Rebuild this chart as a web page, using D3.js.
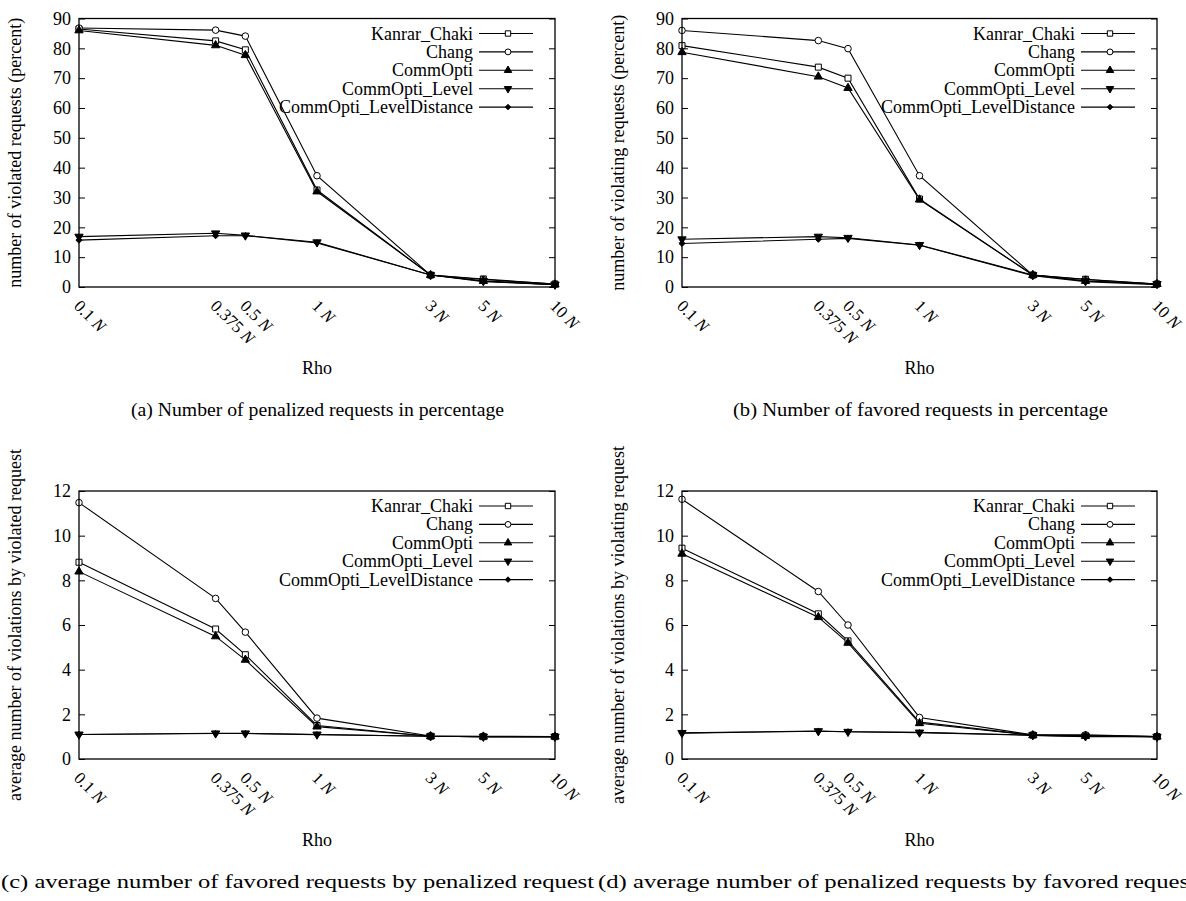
<!DOCTYPE html>
<html>
<head>
<meta charset="utf-8">
<script src="https://cdn.jsdelivr.net/npm/d3@7"></script>
<style>
  body { margin: 0; background: #fff; }
  svg { display: block; overflow: hidden; }
  text { font-family: "Liberation Serif", "Times New Roman", serif; fill: #000; }
</style>
</head>
<body>
<div id="chart"></div>
<script>

// x values (Rho) and their tick labels
const rhoValues = [0.1, 0.375, 0.5, 1, 3, 5, 10];
const rhoLabels = ["0.1", "0.375", "0.5", "1", "3", "5", "10"];

const seriesNames = ["Kanrar_Chaki", "Chang", "CommOpti", "CommOpti_Level", "CommOpti_LevelDistance"];

// (a) number of violated requests (percent)
const violatedKanrar   = [86.5, 82.5, 79.5, 32.5, 4.0, 2.7, 1.0];
const violatedChang    = [86.8, 86.1, 84.1, 37.3, 4.0, 2.5, 1.0];
const violatedComm     = [86.0, 81.0, 77.7, 32.0, 4.0, 2.0, 0.8];
const violatedLevel    = [16.9, 18.0, 17.3, 15.0, 4.0, 2.0, 0.8];
const violatedLevelDst = [15.7, 17.2, 17.2, 14.8, 4.0, 1.8, 0.8];

// (b) number of violating requests (percent)
const violatingKanrar   = [80.9, 73.7, 70.0, 29.5, 4.0, 2.6, 1.0];
const violatingChang    = [86.0, 82.6, 79.9, 37.3, 4.0, 2.5, 1.0];
const violatingComm     = [78.7, 70.5, 66.7, 29.3, 4.0, 2.0, 1.0];
const violatingLevel    = [16.0, 16.9, 16.5, 14.1, 4.0, 2.0, 1.0];
const violatingLevelDst = [14.6, 16.0, 16.3, 14.0, 3.8, 1.8, 0.8];

// (c) average number of violations by violated request
const avgViolatedKanrar   = [8.81, 5.82, 4.67, 1.50, 1.02, 1.00, 1.00];
const avgViolatedChang    = [11.48, 7.19, 5.68, 1.83, 1.03, 1.02, 1.00];
const avgViolatedComm     = [8.39, 5.49, 4.44, 1.45, 1.02, 1.00, 1.00];
const avgViolatedLevel    = [1.10, 1.15, 1.15, 1.10, 1.02, 1.00, 1.00];
const avgViolatedLevelDst = [1.10, 1.14, 1.14, 1.09, 1.02, 1.00, 1.00];

// (d) average number of violations by violating request
const avgViolatingKanrar   = [9.44, 6.50, 5.29, 1.65, 1.07, 1.05, 1.00];
const avgViolatingChang    = [11.63, 7.50, 6.00, 1.86, 1.08, 1.08, 1.00];
const avgViolatingComm     = [9.19, 6.35, 5.20, 1.60, 1.06, 1.03, 1.00];
const avgViolatingLevel    = [1.17, 1.25, 1.22, 1.19, 1.07, 1.02, 1.00];
const avgViolatingLevelDst = [1.16, 1.24, 1.22, 1.18, 1.06, 1.00, 1.00];

const width = 1186, height = 901;

// panel layout (plot box in pixels)
const panels = [
  { left: 79, right: 555, top: 18.5, bottom: 287, yMax: 90, yStep: 10,
    yLabel: "number of violated requests (percent)",
    caption: "(a) Number of penalized requests in percentage", capX: 131, capW: 373,
    series: [violatedKanrar, violatedChang, violatedComm, violatedLevel, violatedLevelDst] },
  { left: 682, right: 1157, top: 18.5, bottom: 287, yMax: 90, yStep: 10,
    yLabel: "number of violating requests (percent)",
    caption: "(b) Number of favored requests in percentage", capX: 733, capW: 375,
    series: [violatingKanrar, violatingChang, violatingComm, violatingLevel, violatingLevelDst] },
  { left: 79, right: 555, top: 491, bottom: 759, yMax: 12, yStep: 2,
    yLabel: "average number of violations by violated request",
    caption: "(c) average number of favored requests by penalized request", capX: 1, capW: 593,
    series: [avgViolatedKanrar, avgViolatedChang, avgViolatedComm, avgViolatedLevel, avgViolatedLevelDst] },
  { left: 682, right: 1157, top: 491, bottom: 759, yMax: 12, yStep: 2,
    yLabel: "average number of violations by violating request",
    caption: "(d) average number of penalized requests by favored request", capX: 598, capW: 598,
    series: [avgViolatingKanrar, avgViolatingChang, avgViolatingComm, avgViolatingLevel, avgViolatingLevelDst] }
];

// marker styles per series
const markerTypes = [d3.symbolSquare, d3.symbolCircle, d3.symbolTriangle, d3.symbolTriangle, d3.symbolDiamond2 || d3.symbolDiamond];
const markerSizes = [36, 34, 30, 30, 24];
const markerFills = ["#fff", "#fff", "#000", "#000", "#000"];
const markerRot   = [0, 0, 0, 180, 0];

const svg = d3.select("#chart")
  .append("svg")
  .attr("width", width)
  .attr("height", height);

function drawPanel(p) {
  const x = d3.scaleLog().domain([0.1, 10]).range([p.left, p.right]);
  const y = d3.scaleLinear().domain([0, p.yMax]).range([p.bottom, p.top]);
  const yTicks = d3.range(0, p.yMax + 0.001, p.yStep);

  const g = svg.append("g");

  // left axis with inward ticks
  g.append("g")
    .attr("transform", `translate(${p.left},0)`)
    .call(d3.axisLeft(y).tickValues(yTicks).tickSize(-6).tickPadding(8))
    .call(a => a.select(".domain").remove())
    .call(a => a.selectAll("text").attr("font-size", "18px"))
    .call(a => a.selectAll("line").attr("stroke", "#000"));

  // right mirror ticks
  g.append("g")
    .attr("transform", `translate(${p.right},0)`)
    .call(d3.axisRight(y).tickValues(yTicks).tickSize(-6).tickFormat(""))
    .call(a => a.select(".domain").remove());

  // x tick labels, rotated
  const xl = g.append("g").attr("transform", `translate(0,${p.bottom})`);
  rhoValues.forEach((v, i) => {
    const t = xl.append("text")
      .attr("transform", `translate(${x(v) - 6},20) rotate(45)`)
      .attr("font-size", "17px");
    t.append("tspan").text(rhoLabels[i] + " ");
    t.append("tspan").attr("font-style", "italic").text("N");
  });

  // lines
  const line = d3.line().x((d, i) => x(rhoValues[i])).y(d => y(d));
  p.series.forEach(s => {
    g.append("path")
      .datum(s)
      .attr("d", line)
      .attr("fill", "none")
      .attr("stroke", "#000")
      .attr("stroke-width", 1.1);
  });

  // markers
  p.series.forEach((s, k) => {
    g.selectAll(null)
      .data(s)
      .enter()
      .append("path")
        .attr("d", d3.symbol().type(markerTypes[k]).size(markerSizes[k]))
        .attr("transform", (d, i) => `translate(${x(rhoValues[i])},${y(d)}) rotate(${markerRot[k]})`)
        .attr("fill", markerFills[k])
        .attr("stroke", "#000")
        .attr("stroke-width", 1);
  });

  // frame
  g.append("rect")
    .attr("x", p.left).attr("y", p.top)
    .attr("width", p.right - p.left).attr("height", p.bottom - p.top)
    .attr("fill", "none").attr("stroke", "#000").attr("stroke-width", 1.3);

  // legend
  seriesNames.forEach((name, k) => {
    const ly = p.top + 15 + k * 18.4;
    g.append("text")
      .attr("x", p.right - 82).attr("y", ly + 6)
      .attr("text-anchor", "end")
      .attr("font-size", "18px")
      .text(name);
    g.append("line")
      .attr("x1", p.right - 76).attr("x2", p.right - 22)
      .attr("y1", ly).attr("y2", ly)
      .attr("stroke", "#000").attr("stroke-width", 1.1);
    g.append("path")
      .attr("d", d3.symbol().type(markerTypes[k]).size(markerSizes[k] * 0.8))
      .attr("transform", `translate(${p.right - 47},${ly}) rotate(${markerRot[k]})`)
      .attr("fill", markerFills[k])
      .attr("stroke", "#000");
  });

  // axis titles
  g.append("text")
    .attr("transform", `translate(${p.left - 58},${(p.top + p.bottom) / 2}) rotate(-90)`)
    .attr("text-anchor", "middle")
    .attr("font-size", "18px")
    .text(p.yLabel);

  g.append("text")
    .attr("x", (p.left + p.right) / 2).attr("y", p.bottom + 87)
    .attr("text-anchor", "middle")
    .attr("font-size", "18px")
    .text("Rho");

  // caption
  g.append("text")
    .attr("x", p.capX).attr("y", p.bottom + 129)
    .attr("font-size", "19px")
    .attr("textLength", p.capW)
    .attr("lengthAdjust", "spacingAndGlyphs")
    .text(p.caption);
}

panels.forEach(drawPanel);

</script>
</body>
</html>
